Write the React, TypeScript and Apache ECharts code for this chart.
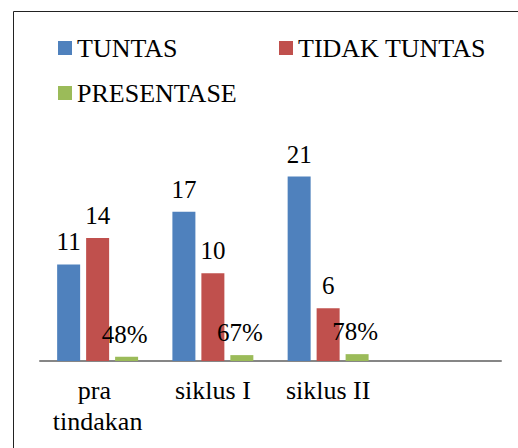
import React, { useEffect, useRef } from "react";
import * as echarts from "echarts";

const categories = ["pra tindakan", "siklus I", "siklus II", ""];
const tuntas = [11, 17, 21, null];
const tidakTuntas = [14, 10, 6, null];
const presentase = [0.48, 0.67, 0.78, null];
const seriesNames = ["TUNTAS", "TIDAK TUNTAS", "PRESENTASE"];
const colors = ["#4F81BD", "#C0504D", "#9BBB59"];

const FONT = "Liberation Serif";
const legendPos = [
  { left: 58, top: 41 },
  { left: 279, top: 41 },
  { left: 58, top: 86 },
];

export default function App() {
  const ref = useRef<HTMLDivElement>(null);
  useEffect(() => {
    if (!ref.current) return;
    const chart = echarts.init(ref.current, null, { renderer: "svg" });
    const labelBase = {
      show: true,
      position: "top" as const,
      distance: 10,
      fontFamily: FONT,
      fontSize: 25,
      color: "#000",
    };
    chart.setOption({
      animation: false,
      backgroundColor: "#fff",
      textStyle: { fontFamily: FONT },
      graphic: [
        {
          type: "rect",
          left: 11,
          top: 9,
          shape: { width: 520, height: 460 },
          style: { fill: "none", stroke: "#222", lineWidth: 1 },
          silent: true,
        },
        ...seriesNames.map((n, i) => ({
          type: "text",
          x: legendPos[i].left + 19,
          y: legendPos[i].top + 7.5,
          silent: true,
          style: {
            text: n,
            font: "26px " + FONT,
            fill: "#000",
            verticalAlign: "middle",
            align: "left",
          },
        })),
      ],
      legend: seriesNames.map((n, i) => ({
        left: legendPos[i].left,
        top: legendPos[i].top,
        padding: 0,
        data: [n],
        icon: "rect",
        itemWidth: 14,
        itemHeight: 14,
        itemGap: 0,
        formatter: () => "",
      })),
      grid: { left: 40, right: 17, top: 141.5, bottom: 87 },
      xAxis: {
        type: "category",
        data: categories,
        axisLine: { lineStyle: { color: "#868686", width: 2 } },
        axisTick: { show: false },
        axisLabel: {
          interval: 0,
          margin: 14,
          fontFamily: FONT,
          fontSize: 26,
          lineHeight: 31,
          color: "#000",
          width: 100,
          overflow: "break",
        },
      },
      yAxis: {
        type: "value",
        min: 0,
        max: 25,
        show: false,
        splitLine: { show: false },
      },
      series: [
        {
          name: seriesNames[0],
          type: "bar",
          data: tuntas,
          barWidth: 23,
          barGap: "26%",
          itemStyle: { color: colors[0] },
          label: { ...labelBase },
        },
        {
          name: seriesNames[1],
          type: "bar",
          data: tidakTuntas,
          barWidth: 23,
          barGap: "26%",
          itemStyle: { color: colors[1] },
          label: { ...labelBase },
        },
        {
          name: seriesNames[2],
          type: "bar",
          data: presentase,
          barWidth: 23,
          barGap: "26%",
          itemStyle: { color: colors[2] },
          z: 3,
          label: {
            ...labelBase,
            offset: [-2, 0],
            formatter: (p: any) => Math.round(p.value * 100) + "%",
          },
        },
      ],
    });
    return () => chart.dispose();
  }, []);
  return (
    <div
      ref={ref}
      style={{ position: "fixed", left: 0, top: 0, width: 518, height: 448 }}
    />
  );
}
